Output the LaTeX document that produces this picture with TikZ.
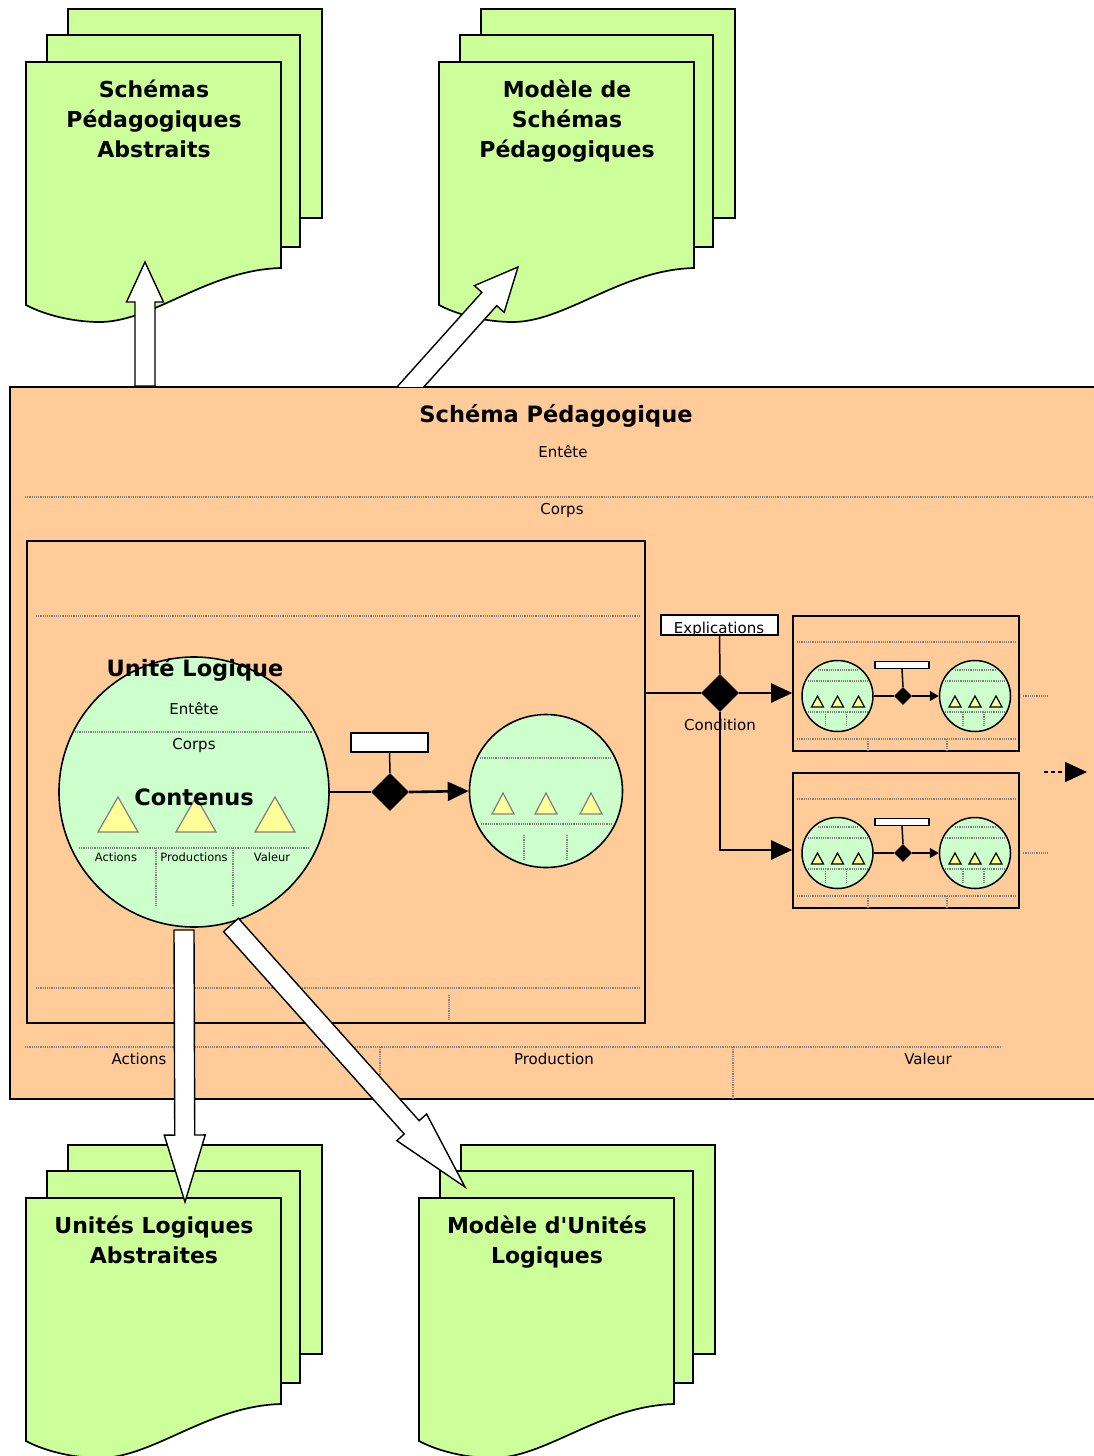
\documentclass[tikz,border=0pt]{standalone}
\usepackage{fontspec}
\setmainfont{DejaVu Sans}[Ligatures=TeXOff]
\usetikzlibrary{arrows.meta,shapes.geometric,calc}

\definecolor{docgreen}{RGB}{204,255,153}
\definecolor{peach}{RGB}{255,204,153}
\definecolor{mint}{RGB}{204,255,204}
\definecolor{paleyellow}{RGB}{255,255,153}

% stack of three documents, #1,#2 top left of the front page
\newcommand{\docstack}[3]{%
  \begin{scope}[shift={(#1,#2)}]
    \draw[page] (42,-53) rectangle (296,156);
    \draw[page] (21,-27) rectangle (274,185);
    \draw[page] (0,0) -- (255,0) -- (255,206) .. controls (180,208) and (125,262) .. (70,260)
      .. controls (40,259) and (15,251) .. (0,243) -- cycle;
    \node[doctitle] at (128,18) {#3};
  \end{scope}}

% white block arrow from #1 to #2
\newcommand{\blockarrow}[5]{%
  \coordinate (hb) at ($(#2)!#5!(#1)$);
  \draw[bigarrow] ($(#1)!#3!90:(#2)$) -- ($(hb)!#3!90:(#2)$) -- ($(hb)!#4!90:(#2)$) -- (#2)
    -- ($(hb)!#4!-90:(#2)$) -- ($(hb)!#3!-90:(#2)$) -- ($(#1)!#3!-90:(#2)$) -- cycle;}

% small box with two units, #2 = centre line
\newcommand{\minichain}[2]{%
  \node[subbox] (#1box) at (906,#2-12.5) {};
  \draw[dots] (797,#2-54) -- (1015,#2-54);
  \draw[dots] (797,#2+43) -- (1015,#2+43);
  \draw[dots] (868,#2+43) -- (868,#2+55);
  \draw[dots] (947,#2+43) -- (947,#2+55);
  \node[minicirc] (#1a) at (837.5,#2) {};
  \node[minicirc] (#1b) at (975,#2) {};
  \node[minidiam] (#1d) at (903,#2) {};
  \node[minibar] (#1e) at (902,#2-31) {};
  \draw[thinflow] (#1e.south) -- (#1d.north);
  \draw[thinflow] (#1a.east) -- (#1d.west);
  \draw[thinflow,-{Triangle[length=9pt,width=10pt]}] (#1d.east) -- (#1b.west);
  \foreach \cx in {837.5,975} {
    \draw[dots] (\cx-20,#2-26) -- (\cx+20,#2-26);
    \draw[dots] (\cx-30,#2-15) -- (\cx+30,#2-15);
    \draw[dots] (\cx-30,#2+16) -- (\cx+30,#2+16);
    \draw[dots] (\cx-12,#2+16) -- (\cx-12,#2+30);
    \draw[dots] (\cx+9,#2+16) -- (\cx+9,#2+30);
    \foreach \dx in {-20,0,21}
      \draw[minitri] (\cx+\dx-6,#2+11) -- (\cx+\dx,#2) -- (\cx+\dx+6,#2+11) -- cycle;
  }
  \draw[dots] ([xshift=12pt]#1b.east) -- ++(25,0);
}

\begin{document}
\begin{tikzpicture}[x=1pt,y=-1pt,
  page/.style={draw=black,fill=docgreen,line width=1.7pt},
  doctitle/.style={font=\bfseries\fontsize{22}{30}\selectfont,align=center,anchor=north,inner sep=0pt},
  mainbox/.style={draw,fill=peach,line width=2pt,minimum width=1091pt,minimum height=712pt,anchor=north west,inner sep=0pt},
  innerbox/.style={draw,line width=1.8pt,inner sep=0pt},
  subbox/.style={draw,line width=1.6pt,minimum width=226pt,minimum height=135pt,inner sep=0pt},
  dots/.style={densely dotted,gray,line width=1.2pt},
  title/.style={font=\bfseries\fontsize{22.5}{26}\selectfont,inner sep=0pt},
  lbl/.style={font=\fontsize{15}{18}\selectfont,inner sep=0pt},
  tiny/.style={font=\fontsize{11.5}{13}\selectfont,inner sep=0pt},
  unitcirc/.style={circle,draw,fill=mint,line width=1.6pt,minimum size=270pt,inner sep=0pt},
  minicirc/.style={circle,draw,fill=mint,line width=1.5pt,minimum size=71pt,inner sep=0pt},
  cond/.style={diamond,fill=black,minimum width=38pt,minimum height=38pt,inner sep=0pt},
  minidiam/.style={diamond,fill=black,minimum width=18pt,minimum height=18pt,inner sep=0pt},
  explbox/.style={draw,fill=white,line width=1.5pt,inner sep=0pt},
  minibar/.style={draw,fill=white,line width=1.2pt,minimum width=54pt,minimum height=7pt,inner sep=0pt},
  flow/.style={line width=2.6pt},
  flow arrow/.style={flow,-{Triangle[length=21pt,width=19pt]}},
  thinflow/.style={line width=1.5pt},
  tri/.style={fill=paleyellow,draw=gray,line width=1.2pt},
  minitri/.style={fill=paleyellow,draw=black,line width=1.2pt},
  bigarrow/.style={draw,fill=white,line width=1.4pt,line join=miter}]

\useasboundingbox (0,0) rectangle (1094,1456);

% documents
\docstack{26}{62}{Schémas\\Pédagogiques\\Abstraits}
\docstack{439}{62}{Modèle de\\Schémas\\Pédagogiques}
\docstack{26}{1198}{Unités Logiques\\Abstraites}
\docstack{419}{1198}{Modèle d'Unités\\Logiques}

% schema
\node[mainbox] (sp) at (9,386) {};
\node[title] at (556,416) {Schéma Pédagogique};
\node[lbl] at (563,452) {Entête};
\draw[dots] (25,497) -- (1094,497);
\node[lbl] at (562,510) {Corps};

\node[innerbox,anchor=north west,minimum width=618pt,minimum height=482pt] (lu) at (26,540) {};
\draw[dots] (36,616) -- (640,616);
\draw[dots] (36,988) -- (640,988);
\draw[dots] (449,995) -- (449,1021);

% logical unit
\node[unitcirc] (ul) at (194,792) {};
\node[title] at (195,670) {Unité Logique};
\node[lbl] at (194,709) {Entête};
\draw[dots] (75,732) -- (312,732);
\node[lbl] at (194,745) {Corps};
\foreach \tx in {118,196,275}
  \draw[tri] (\tx-20,832) -- (\tx,797) -- (\tx+20,832) -- cycle;
\node[title] at (194,797) {Contenus};
\draw[dots] (79,848) -- (310,848);
\draw[dots] (156,848) -- (156,907);
\draw[dots] (233,848) -- (233,907);
\node[tiny] at (116,857) {Actions};
\node[tiny] at (194,857) {Productions};
\node[tiny] at (272,857) {Valeur};

\node[cond] (d1) at (390,792) {};
\node[explbox,minimum width=77pt,minimum height=19pt] (e1) at (389.5,742.5) {};
\node[unitcirc,minimum size=153pt] (c2) at (546,791) {};
\draw[thinflow] (e1.south) -- (d1.north);
\draw[flow] (ul.east) -- (d1.west);
\draw[flow arrow] (d1.east) -- (c2.west);
\draw[dots] (480,758) -- (612,758);
\foreach \tx in {503,546,591}
  \draw[tri] (\tx-11,814) -- (\tx,793) -- (\tx+11,814) -- cycle;
\draw[dots] (481,824) -- (612,824);
\draw[dots] (524,835) -- (524,860);
\draw[dots] (567,835) -- (567,860);

% condition
\minichain{u}{696}
\minichain{l}{853}
\node[cond] (d2) at (720,693) {};
\node[explbox,minimum width=117pt,minimum height=20pt] (ex) at (719.5,625) {};
\node[lbl,anchor=base] at (719,633) {Explications};
\draw[thinflow] (ex.south) -- (d2.north);
\draw[flow] (lu.east |- d2.west) -- (d2.west);
\draw[flow arrow] (d2.east) -- (ubox.west |- d2.east);
\draw[flow arrow] (d2.south) |- (lbox.west |- 0,850);
\node[lbl] at (720,725) {Condition};

\coordinate (more0) at (1044,772);
\coordinate (more1) at (1087,772);
\draw[line width=1.4pt,dash pattern=on 4pt off 3pt,-{Triangle[length=22pt,width=20pt]}] (more0) -- (more1);

% bottom
\draw[dots] (25,1047) -- (1000,1047);
\draw[dots] (380,1047) -- (380,1075);
\draw[dots] (733,1047) -- (733,1098);
\node[lbl] at (139,1059) {Actions};
\node[lbl] at (554,1059) {Production};
\node[lbl] at (928,1059) {Valeur};

% big arrows
\coordinate (a1s) at (145,386);
\coordinate (a1e) at (145,262);
\coordinate (a2s) at (405,393);
\coordinate (a2e) at (518,267);
\coordinate (a3s) at (184,930);
\coordinate (a3e) at (185,1202);
\coordinate (a4s) at (231,925);
\coordinate (a4e) at (465,1187);
\begin{scope}
  \clip (0,0) rectangle (1094,386);
  \blockarrow{a1s}{a1e}{10pt}{18.5pt}{40pt}
  \blockarrow{a2s}{a2e}{10pt}{20pt}{43pt}
\end{scope}
\blockarrow{a3s}{a3e}{10pt}{20.5pt}{67pt}
\blockarrow{a4s}{a4e}{10pt}{20pt}{80pt}
\end{tikzpicture}
\end{document}
